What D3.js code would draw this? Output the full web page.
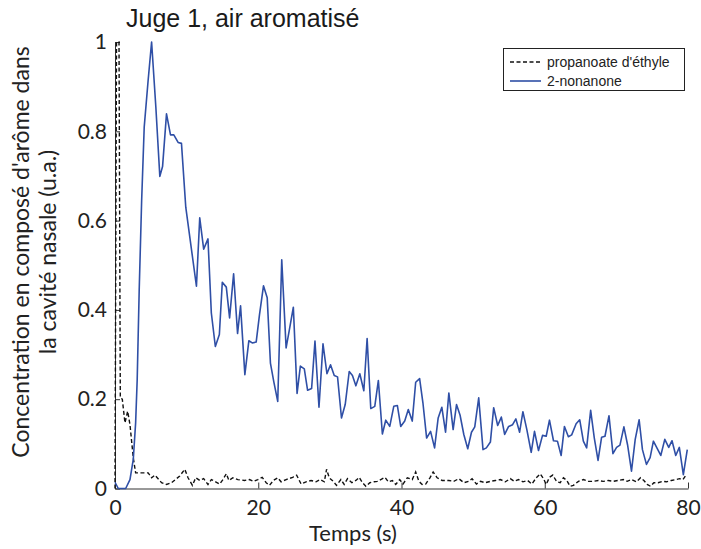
<!DOCTYPE html>
<html><head><meta charset="utf-8">
<script src="https://cdn.jsdelivr.net/npm/d3@7"></script>
<style>
html,body{margin:0;padding:0;background:#fff;}
svg{display:block;}
</style></head>
<body>
<script>
// ---- data ----
const chartTitle = "Juge 1, air aromatisé";
const xLabel = "Temps (s)";
const yLabelLines = ["Concentration en composé d'arôme dans", "la cavité nasale (u.a.)"];
const seriesNames = ["propanoate d'éthyle", "2-nonanone"];
const xTicks = [0, 20, 40, 60, 80];
const yTicks = [0, 0.2, 0.4, 0.6, 0.8, 1];
const yTickLabels = ["0", "0.2", "0.4", "0.6", "0.8", "1"];

const nonanoneT = [0,0.46,1.49,2.09,2.55,2.88,3.10,3.38,3.72,4.08,4.63,5.11,5.70,6.26,6.64,7.19,7.75,8.21,8.81,9.28,9.88,11.37,11.83,12.38,12.98,13.45,14.01,14.57,14.98,15.54,16.0,16.56,17.11,17.53,18.13,18.69,19.16,19.71,20.17,20.73,21.25,21.70,22.16,22.72,23.28,23.89,24.35,24.90,25.42,25.88,26.43,26.89,27.45,27.92,28.48,29.04,29.59,30.09,30.61,31.07,31.62,32.14,32.70,33.15,33.63,34.18,34.74,35.20,35.71,36.27,36.77,37.33,37.80,38.36,38.92,39.42,39.89,40.45,40.95,41.50,41.98,42.53,42.99,43.51,44.06,44.62,45.12,45.63,46.15,46.61,47.21,47.68,48.18,48.70,49.25,49.77,50.23,50.78,51.38,51.85,52.41,52.87,53.43,53.94,54.40,54.96,55.51,55.97,56.49,56.95,57.50,58.11,58.57,59.13,59.69,60.20,60.66,61.22,61.77,62.29,62.75,63.30,63.76,64.38,64.88,65.39,65.85,66.41,66.92,67.44,67.94,68.41,68.97,69.52,70.03,70.50,71.05,71.56,72.11,72.63,73.18,73.64,74.20,74.71,75.17,75.73,76.20,76.76,77.31,77.77,78.29,78.79,79.35,79.90];
const nonanoneV = [0.014,0.0,0.0,0.02,0.065,0.147,0.244,0.445,0.645,0.81,0.915,1.0,0.855,0.699,0.721,0.839,0.792,0.792,0.775,0.773,0.630,0.453,0.606,0.536,0.559,0.393,0.318,0.345,0.462,0.451,0.382,0.481,0.347,0.409,0.255,0.331,0.326,0.328,0.389,0.454,0.427,0.281,0.24,0.195,0.512,0.315,0.356,0.406,0.213,0.274,0.268,0.22,0.224,0.33,0.182,0.324,0.257,0.277,0.253,0.25,0.158,0.188,0.262,0.253,0.23,0.257,0.219,0.336,0.179,0.184,0.242,0.122,0.153,0.139,0.184,0.186,0.139,0.151,0.177,0.151,0.238,0.246,0.192,0.113,0.128,0.091,0.158,0.182,0.126,0.214,0.132,0.188,0.164,0.121,0.089,0.126,0.138,0.203,0.087,0.091,0.104,0.181,0.141,0.160,0.121,0.139,0.143,0.156,0.126,0.172,0.132,0.081,0.128,0.085,0.119,0.117,0.153,0.107,0.106,0.074,0.139,0.116,0.120,0.145,0.154,0.106,0.091,0.175,0.113,0.063,0.115,0.117,0.163,0.078,0.092,0.097,0.138,0.098,0.039,0.110,0.154,0.087,0.054,0.069,0.106,0.089,0.074,0.110,0.092,0.107,0.074,0.092,0.031,0.087];

const propanoateT = [0,0.21,0.56,0.74,1.02,1.39,1.77,2.09,2.55,2.88,3.48,4.63,5.11,5.57,6.50,7.19,7.89,9.04,9.74,10.20,10.81,11.27,11.83,12.38,12.98,13.45,14.05,14.61,15.07,15.54,15.90,16.46,17.15,18.09,18.78,19.34,19.94,20.55,21.11,21.57,22.12,22.72,23.19,23.89,24.81,25.36,25.98,26.67,27.37,28.06,28.62,29.22,29.54,29.91,30.47,30.93,31.54,32.0,32.46,33.07,33.63,34.09,34.55,35.02,35.58,36.17,36.63,37.11,37.70,38.16,38.72,39.19,39.75,40.21,40.81,41.50,41.98,42.43,42.89,43.37,43.97,44.42,44.98,45.68,46.61,47.30,48.0,48.70,49.39,49.85,50.46,51.02,51.71,52.41,53.11,53.80,54.50,55.19,55.75,56.35,56.95,57.60,58.20,58.81,59.37,59.83,60.20,60.66,61.12,61.68,62.15,62.61,63.07,63.54,64.0,64.70,65.39,66.09,66.78,67.48,68.17,68.87,69.57,70.26,70.96,71.51,72.11,72.81,73.37,73.84,74.30,74.76,75.23,75.83,76.42,76.98,77.67,78.29,78.82,79.30,79.76];
const propanoateV = [0,1.0,1.0,0.203,0.2,0.147,0.173,0.143,0.069,0.035,0.035,0.035,0.024,0.03,0.013,0.009,0.013,0.028,0.043,0.024,0.007,0.024,0.018,0.022,0.009,0.02,0.015,0.010,0.02,0.033,0.018,0.024,0.02,0.018,0.02,0.016,0.02,0.025,0.013,0.007,0.018,0.024,0.015,0.02,0.025,0.03,0.010,0.015,0.018,0.015,0.02,0.015,0.043,0.024,0.016,0.007,0.02,0.009,0.022,0.013,0.018,0.025,0.013,0.005,0.013,0.015,0.016,0.02,0.025,0.015,0.018,0.009,0.02,0.010,0.024,0.02,0.037,0.016,0.009,0.010,0.024,0.037,0.024,0.018,0.018,0.016,0.022,0.013,0.016,0.022,0.010,0.016,0.013,0.016,0.018,0.02,0.015,0.022,0.016,0.02,0.015,0.018,0.010,0.024,0.033,0.022,0.009,0.025,0.03,0.015,0.013,0.024,0.018,0.005,0.007,0.016,0.02,0.016,0.016,0.018,0.016,0.018,0.016,0.018,0.02,0.016,0.02,0.015,0.024,0.018,0.009,0.005,0.013,0.013,0.016,0.015,0.018,0.02,0.022,0.02,0.031];

// ---- layout ----
const W = 701, H = 549;
const m = {left: 115, right: 13, top: 42, bottom: 60};
const blue = "#2f4fa6";

const svg = d3.select("body").append("svg").attr("width", W).attr("height", H);

const x = d3.scaleLinear().domain([0, 80]).range([m.left, W - m.right]);
const y = d3.scaleLinear().domain([0, 1]).range([H - m.bottom - 0.5, m.top]);

const tickFont = "Lato, 'Open Sans', sans-serif";

// axes
const xAxis = d3.axisBottom(x).tickValues(xTicks).tickSizeInner(-6).tickSizeOuter(0).tickPadding(12).tickFormat(d3.format("d"));
const gx = svg.append("g").attr("transform", `translate(0,${y(0)})`).call(xAxis);
gx.selectAll("text").attr("font-family", tickFont).attr("font-size", 21).attr("fill", "#222");
gx.select(".domain").attr("stroke", "#333");
gx.selectAll(".tick line").attr("stroke", "#333");

const yAxis = d3.axisLeft(y).tickValues(yTicks).tickSizeInner(-5).tickSizeOuter(0).tickPadding(8)
  .tickFormat((d, i) => yTickLabels[i]);
const gy = svg.append("g").attr("transform", `translate(${x(0)},0)`).call(yAxis);
gy.selectAll("text").attr("font-family", tickFont).attr("font-size", 21).attr("fill", "#222");
gy.select(".domain").attr("stroke", "#333");
gy.selectAll(".tick line").attr("stroke", "#333");

// lines
const line = d3.line().x(d => x(d[0])).y(d => y(d[1]));
const propData = propanoateT.map((t, i) => [t, propanoateV[i]]);
const nonData = nonanoneT.map((t, i) => [t, nonanoneV[i]]);

svg.append("path").datum(propData).attr("d", line)
  .attr("fill", "none").attr("stroke", "#111").attr("stroke-width", 1.4)
  .attr("stroke-dasharray", "4,2.5");
svg.append("path").datum(nonData).attr("d", line)
  .attr("fill", "none").attr("stroke", blue).attr("stroke-width", 1.6)
  .attr("stroke-linejoin", "round");

// title
svg.append("text").attr("x", 126).attr("y", 27)
  .attr("font-family", "'Liberation Sans', Arial, sans-serif").attr("font-size", 25)
  .attr("fill", "#1a1a1a").text(chartTitle);

// x label
svg.append("text").attr("x", 353).attr("y", 541).attr("text-anchor", "middle")
  .attr("font-family", tickFont).attr("font-size", 22).attr("fill", "#222").text(xLabel);

// y label (two lines)
const yl = svg.append("text").attr("transform", "translate(29,252) rotate(-90)")
  .attr("text-anchor", "middle").attr("font-family", tickFont).attr("font-size", 23).attr("fill", "#222");
yl.append("tspan").attr("x", 0).attr("dy", 0).text(yLabelLines[0]);
yl.append("tspan").attr("x", 0).attr("dy", 27).text(yLabelLines[1]);

// legend
const lg = svg.append("g");
lg.append("rect").attr("x", 503.5).attr("y", 48.5).attr("width", 181).attr("height", 42)
  .attr("fill", "#fff").attr("stroke", "#222").attr("stroke-width", 1);
const legendStyles = [{stroke: "#111", dash: "4,2.5", w: 1.4}, {stroke: blue, dash: null, w: 1.6}];
seriesNames.forEach((name, i) => {
  const yy = 62 + i * 19;
  lg.append("line").attr("x1", 510).attr("x2", 541).attr("y1", yy).attr("y2", yy)
    .attr("stroke", legendStyles[i].stroke).attr("stroke-width", legendStyles[i].w)
    .attr("stroke-dasharray", legendStyles[i].dash);
  lg.append("text").attr("x", 547).attr("y", yy).attr("dy", "0.35em")
    .attr("font-family", "'Liberation Sans', Arial, sans-serif").attr("font-size", 14)
    .attr("fill", "#222").text(name);
});
</script>
</body></html>
